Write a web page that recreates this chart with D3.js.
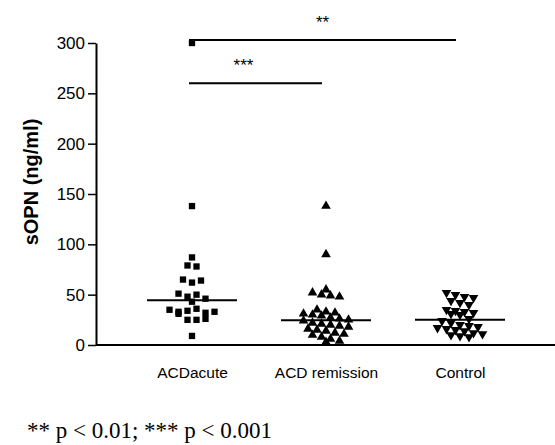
<!DOCTYPE html>
<html>
<head>
<meta charset="utf-8">
<script src="https://cdn.jsdelivr.net/npm/d3@7"></script>
<style>
  body { margin: 0; background: #fff; }
  text { fill: #000; }
</style>
</head>
<body>
<div id="chart"></div>
<script>
// groups on the x axis
const groups = ["ACDacute", "ACDremission", "Control"];
const groupLabels = ["ACDacute", "ACD remission", "Control"];

// sOPN values (ng/ml), one array per group
const acdAcute = [300, 138, 87, 79, 78, 65, 62, 64, 51, 48, 50, 46, 43,
                  35, 33, 34, 36, 32, 31, 33, 25, 25, 26, 9];
const acdRemission = [138, 90, 55, 52, 50, 49, 48, 35, 33, 32, 31, 30, 29,
                      27, 26, 25, 24, 22, 21, 20, 19, 18, 16, 15, 14, 12,
                      11, 10, 8, 6, 4, 3];
const control = [52, 50, 48, 47, 44, 42, 40, 35, 34, 33, 32, 31, 30, 26,
                 24, 22, 20, 19, 18, 17, 16, 15, 14, 12, 11, 10, 9, 8];

const yTicks = [0, 50, 100, 150, 200, 250, 300];

// significance brackets: from group, to group, label, level (ng/ml)
const brackets = [
  {from: 0, to: 2, label: "**", level: 303},
  {from: 0, to: 1, label: "***", level: 260}
];
const footnote = "** p < 0.01; *** p < 0.001";

const width = 555, height = 445;
const svg = d3.select("#chart").append("svg")
    .attr("width", width)
    .attr("height", height);

const axisX = 96, axisBottom = 345;
const font = "Arial, 'Liberation Sans', sans-serif";

const y = d3.scaleLinear().domain([0, 300]).range([axisBottom, 43]);
const x = d3.scalePoint().domain(groups).range([192, 460]);

// y axis
const yAxis = svg.append("g")
    .attr("transform", `translate(${axisX},0)`)
    .call(d3.axisLeft(y).tickValues(yTicks).tickSize(8).tickSizeOuter(0).tickPadding(3));
yAxis.select(".domain").attr("stroke-width", 2);
yAxis.selectAll(".tick line").attr("stroke-width", 1.5);
yAxis.selectAll("text")
    .style("font-family", font)
    .style("font-size", "17px")
    .attr("fill", "#000");

// x axis
svg.append("line")
    .attr("x1", axisX).attr("x2", width)
    .attr("y1", axisBottom).attr("y2", axisBottom)
    .attr("stroke", "#000").attr("stroke-width", 2);
const xAxis = svg.append("g")
    .attr("transform", `translate(0,${axisBottom})`)
    .call(d3.axisBottom(x).tickSize(0).tickPadding(22).tickFormat((d, i) => groupLabels[i]));
xAxis.select(".domain").remove();
xAxis.selectAll("text")
    .style("font-family", font)
    .style("font-size", "15.5px")
    .attr("fill", "#000");

// y label
svg.append("text")
    .attr("transform", `translate(38,${(y(0) + y(300)) / 2 - 12}) rotate(-90)`)
    .attr("text-anchor", "middle")
    .style("font-family", font)
    .style("font-size", "20px")
    .style("font-weight", "bold")
    .text("sOPN (ng/ml)");

// simple dodge so points sharing a value band sit side by side
function dodge(values, bin, gap) {
  const rows = d3.group(values.map((v, i) => ({v, i})), d => Math.round(d.v / bin));
  const out = [];
  rows.forEach(row => {
    row.sort((a, b) => a.i - b.i);
    row.forEach((d, k) => out.push({value: d.v, dx: (k - (row.length - 1) / 2) * gap}));
  });
  return out;
}

const series = [
  {key: "ACDacute", values: acdAcute, symbol: d3.symbolSquare, size: 40, rot: 0},
  {key: "ACDremission", values: acdRemission, symbol: d3.symbolTriangle, size: 40, rot: 0},
  {key: "Control", values: control, symbol: d3.symbolTriangle, size: 40, rot: 180}
];

series.forEach(s => {
  const pts = dodge(s.values, 7, 9);
  svg.append("g").selectAll("path")
    .data(pts)
    .enter().append("path")
      .attr("d", d3.symbol().type(s.symbol).size(s.size))
      .attr("transform", d => `translate(${x(s.key) + d.dx},${y(d.value)}) rotate(${s.rot})`)
      .attr("fill", "#000");

  const med = d3.median(s.values);
  svg.append("line")
    .attr("x1", x(s.key) - 45).attr("x2", x(s.key) + 45)
    .attr("y1", y(med)).attr("y2", y(med))
    .attr("stroke", "#000").attr("stroke-width", 2);
});

// significance lines
brackets.forEach(b => {
  const x1 = x(groups[b.from]) - 3;
  const x2 = x(groups[b.to]) - 4;
  svg.append("line")
    .attr("x1", x1).attr("x2", x2)
    .attr("y1", y(b.level)).attr("y2", y(b.level))
    .attr("stroke", "#000").attr("stroke-width", 2);
  svg.append("text")
    .attr("x", (x1 + x2) / 2 - (b.to === 1 ? 12 : 0))
    .attr("y", y(b.level) - 12)
    .attr("text-anchor", "middle")
    .style("font-family", font)
    .style("font-size", "17px")
    .text(b.label);
});

svg.append("text")
    .attr("x", 27).attr("y", 438)
    .style("font-family", "'Liberation Serif', 'Times New Roman', serif")
    .style("font-size", "23px")
    .text(footnote);
</script>
</body>
</html>
